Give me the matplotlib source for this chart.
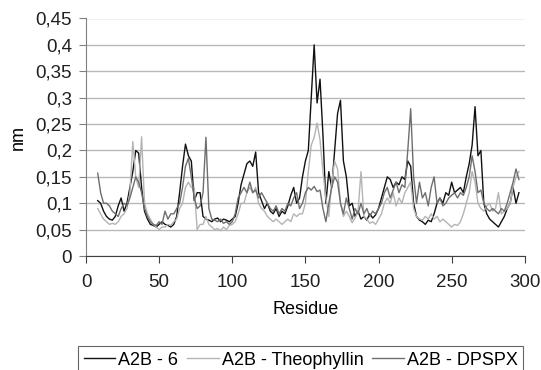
import numpy as np
import matplotlib
matplotlib.use("Agg")
import matplotlib.pyplot as plt
from matplotlib.ticker import FuncFormatter

# residue numbers (every 2nd residue, 8..296)
residues = np.arange(8, 297, 2)

# A2B - 6
a2b_6 = [
    0.105, 0.10, 0.085, 0.075, 0.07, 0.068, 0.075, 0.095, 0.11, 0.085,    # 8-26
    0.10, 0.13, 0.16, 0.20, 0.195, 0.13, 0.085, 0.07, 0.06, 0.058,        # 28-46
    0.055, 0.06, 0.065, 0.06, 0.058, 0.055, 0.06, 0.075, 0.12, 0.17,     # 48-66
    0.212, 0.19, 0.18, 0.105, 0.12, 0.12, 0.075, 0.07, 0.068, 0.065,     # 68-86
    0.07, 0.072, 0.065, 0.07, 0.068, 0.065, 0.07, 0.075, 0.10, 0.135,    # 88-106
    0.155, 0.175, 0.18, 0.17, 0.197, 0.12, 0.105, 0.09, 0.10, 0.085,     # 108-126
    0.08, 0.09, 0.075, 0.085, 0.08, 0.095, 0.115, 0.13, 0.10, 0.11,      # 128-146
    0.15, 0.18, 0.20, 0.30, 0.40, 0.29, 0.335, 0.23, 0.10, 0.16,         # 148-166
    0.13, 0.20, 0.27, 0.295, 0.18, 0.15, 0.095, 0.10, 0.075, 0.085,      # 168-186
    0.07, 0.075, 0.068, 0.08, 0.072, 0.078, 0.09, 0.11, 0.13, 0.15,      # 188-206
    0.145, 0.13, 0.14, 0.135, 0.15, 0.145, 0.18, 0.17, 0.10, 0.075,      # 208-226
    0.068, 0.065, 0.06, 0.068, 0.065, 0.08, 0.10, 0.11, 0.10, 0.12,      # 228-246
    0.115, 0.14, 0.12, 0.125, 0.13, 0.12, 0.15, 0.175, 0.21, 0.283,      # 248-266
    0.19, 0.20, 0.10, 0.08, 0.07, 0.065, 0.06, 0.055, 0.065, 0.075,      # 268-286
    0.09, 0.10, 0.13, 0.10, 0.12,                                        # 288-296
]

# A2B - Theophyllin
a2b_theo = [
    0.09, 0.08, 0.07, 0.065, 0.06, 0.062, 0.06, 0.065, 0.075, 0.08,      # 8-26
    0.09, 0.12, 0.217, 0.15, 0.13, 0.226, 0.10, 0.08, 0.07, 0.06,        # 28-46
    0.055, 0.05, 0.055, 0.055, 0.06, 0.058, 0.065, 0.07, 0.09, 0.10,     # 48-66
    0.13, 0.14, 0.13, 0.13, 0.05, 0.06, 0.06, 0.075, 0.06, 0.055,        # 68-86
    0.05, 0.052, 0.048, 0.055, 0.05, 0.058, 0.06, 0.065, 0.08, 0.10,     # 88-106
    0.10, 0.12, 0.13, 0.12, 0.13, 0.10, 0.09, 0.085, 0.075, 0.07,        # 108-126
    0.065, 0.07, 0.065, 0.06, 0.065, 0.07, 0.065, 0.08, 0.075, 0.08,     # 128-146
    0.08, 0.10, 0.16, 0.21, 0.225, 0.252, 0.22, 0.16, 0.11, 0.075,       # 148-166
    0.14, 0.18, 0.165, 0.10, 0.075, 0.085, 0.075, 0.063, 0.072, 0.085,   # 168-186
    0.16, 0.075, 0.07, 0.062, 0.065, 0.06, 0.07, 0.08, 0.10, 0.11,       # 188-206
    0.10, 0.12, 0.095, 0.11, 0.10, 0.12, 0.13, 0.14, 0.09, 0.075,        # 208-226
    0.07, 0.068, 0.075, 0.07, 0.08, 0.07, 0.075, 0.065, 0.07, 0.065,     # 228-246
    0.06, 0.055, 0.06, 0.058, 0.065, 0.08, 0.10, 0.12, 0.16, 0.14,       # 248-266
    0.10, 0.09, 0.085, 0.095, 0.10, 0.085, 0.09, 0.12, 0.08, 0.085,      # 268-286
    0.09, 0.10, 0.13, 0.15, 0.16,                                        # 288-296
]

# A2B - DPSPX
a2b_dpspx = [
    0.157, 0.12, 0.10, 0.10, 0.095, 0.085, 0.08, 0.075, 0.09, 0.10,      # 8-26
    0.095, 0.11, 0.13, 0.15, 0.14, 0.12, 0.09, 0.075, 0.065, 0.06,       # 28-46
    0.058, 0.065, 0.06, 0.085, 0.07, 0.08, 0.08, 0.09, 0.10, 0.13,       # 48-66
    0.17, 0.185, 0.15, 0.11, 0.09, 0.095, 0.12, 0.225, 0.09, 0.07,       # 68-86
    0.068, 0.065, 0.07, 0.062, 0.065, 0.06, 0.065, 0.08, 0.11, 0.12,     # 88-106
    0.13, 0.12, 0.14, 0.12, 0.125, 0.11, 0.12, 0.11, 0.10, 0.09,         # 108-126
    0.085, 0.095, 0.08, 0.09, 0.085, 0.10, 0.095, 0.11, 0.12, 0.09,      # 128-146
    0.10, 0.12, 0.13, 0.125, 0.132, 0.122, 0.125, 0.09, 0.065, 0.10,     # 148-166
    0.13, 0.15, 0.14, 0.10, 0.08, 0.11, 0.09, 0.07, 0.09, 0.08,          # 168-186
    0.10, 0.08, 0.09, 0.075, 0.085, 0.08, 0.09, 0.10, 0.12, 0.13,        # 188-206
    0.11, 0.125, 0.14, 0.12, 0.135, 0.13, 0.20, 0.279, 0.15, 0.10,       # 208-226
    0.14, 0.11, 0.12, 0.095, 0.13, 0.15, 0.10, 0.11, 0.095, 0.10,        # 228-246
    0.11, 0.115, 0.12, 0.11, 0.12, 0.115, 0.13, 0.15, 0.19, 0.16,        # 248-266
    0.12, 0.125, 0.10, 0.09, 0.085, 0.09, 0.085, 0.08, 0.09, 0.085,      # 268-286
    0.10, 0.12, 0.14, 0.165, 0.145,                                      # 288-296
]

series_names = ['A2B - 6', 'A2B - Theophyllin', 'A2B - DPSPX']
series_colors = ['#111111', '#b4b4b4', '#6e6e6e']

plt.rcParams['font.family'] = ['Liberation Sans', 'DejaVu Sans']
fs = 13

fig = plt.figure(figsize=(5.41, 3.70), dpi=100)
ax = fig.add_axes([0.159, 0.308, 0.811, 0.642])

for vals, name, col in zip([a2b_6, a2b_theo, a2b_dpspx], series_names, series_colors):
    ax.plot(residues, vals, color=col, lw=1.0, label=name)

ax.set_xlim(0, 300)
ax.set_ylim(0, 0.45)
ax.set_xticks(np.arange(0, 301, 50))
ax.set_yticks(np.arange(0, 0.451, 0.05))
ax.yaxis.set_major_formatter(FuncFormatter(lambda v, p: ('%g' % round(v, 2)).replace('.', ',')))

ax.grid(axis='y', color='#b8b8b8', lw=1.0)
ax.set_axisbelow(True)
for s in ['top', 'right']:
    ax.spines[s].set_visible(False)
ax.spines['left'].set_color('#808080')
ax.spines['bottom'].set_color('#404040')
ax.tick_params(axis='both', labelsize=13.5, length=5, direction='out', colors='#202020')
ax.tick_params(axis='y', color='#808080', pad=5)
ax.tick_params(axis='x', color='#404040', pad=8)

ax.set_xlabel('Residue', fontsize=fs, labelpad=7)
ax.set_ylabel('nm', fontsize=fs, labelpad=6)

leg = fig.legend(loc='upper left', bbox_to_anchor=(0.145, 0.064), ncol=3, fontsize=fs,
                 frameon=True, fancybox=False, edgecolor='#404040', handlelength=1.75,
                 handletextpad=0.15, columnspacing=0.5, borderpad=0.3, borderaxespad=0)
leg.get_frame().set_linewidth(0.8)

fig.savefig('out.png', dpi=100)
